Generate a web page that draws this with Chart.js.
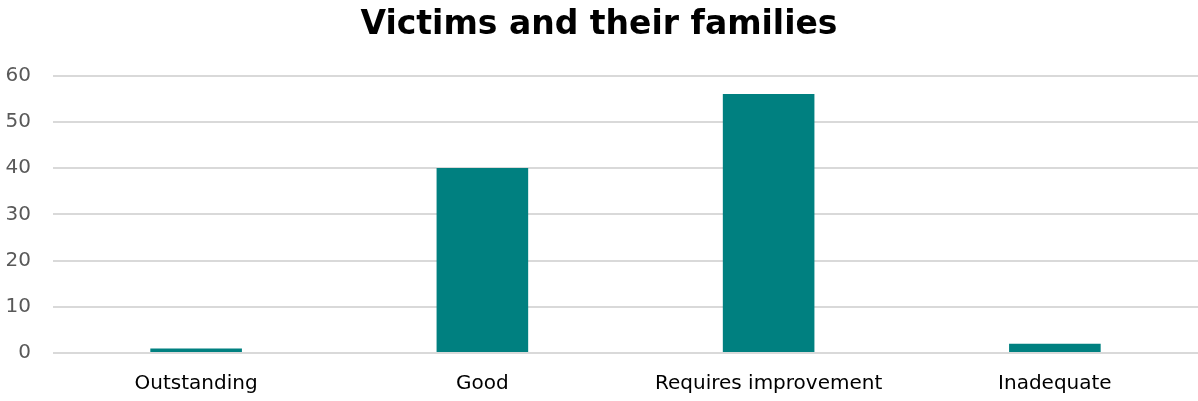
<!DOCTYPE html>
<html>
<head>
<meta charset="utf-8">
<script src="https://cdn.jsdelivr.net/npm/chart.js@4/dist/chart.umd.min.js"></script>
<style>
  html, body { margin: 0; padding: 0; background: #fff; }
  #wrap { width: 1198px; height: 401px; position: relative; }
</style>
</head>
<body>
<div id="wrap"><canvas id="ratings-chart"></canvas></div>
<script>
const categories = ['Outstanding', 'Good', 'Requires improvement', 'Inadequate'];
const counts = [1, 40, 56, 2];
const yTicks = [0, 10, 20, 30, 40, 50, 60];

const fontFamily = 'Tahoma, "DejaVu Sans", Verdana, sans-serif';

const data = {
    labels: categories,
    datasets: [{
        label: 'Victims and their families',
        data: counts,
        backgroundColor: 'rgb(0,128,128)',
        borderWidth: 0,
        barPercentage: 0.32,
        categoryPercentage: 1.0
    }]
};

const config = {
    type: 'bar',
    data: data,
    options: {
        responsive: true,
        maintainAspectRatio: false,
        animation: false,
        layout: { padding: { left: 0, right: 0, top: 2, bottom: 0 } },
        plugins: {
            legend: { display: false },
            tooltip: { enabled: false },
            title: {
                display: true,
                text: 'Victims and their families',
                color: '#000',
                font: { family: fontFamily, size: 33, weight: 'bold' },
                padding: { top: 4, bottom: 30 }
            }
        },
        scales: {
            x: {
                grid: { display: false, drawTicks: false },
                border: { display: false },
                afterFit: axis => { axis.height = 48; },
                ticks: {
                    color: '#000',
                    font: { family: fontFamily, size: 20 },
                    padding: 19,
                    maxRotation: 0
                }
            },
            y: {
                min: 0,
                max: 60,
                afterBuildTicks: axis => {
                    axis.ticks = yTicks.map(v => ({ value: v }));
                },
                afterFit: axis => { axis.width = 53; },
                grid: { color: '#d9d9d9', lineWidth: 2, drawTicks: false },
                border: { display: false },
                ticks: {
                    color: '#595959',
                    font: { family: fontFamily, size: 20 },
                    padding: 22
                }
            }
        }
    }
};

new Chart(document.getElementById('ratings-chart'), config);
</script>
</body>
</html>
